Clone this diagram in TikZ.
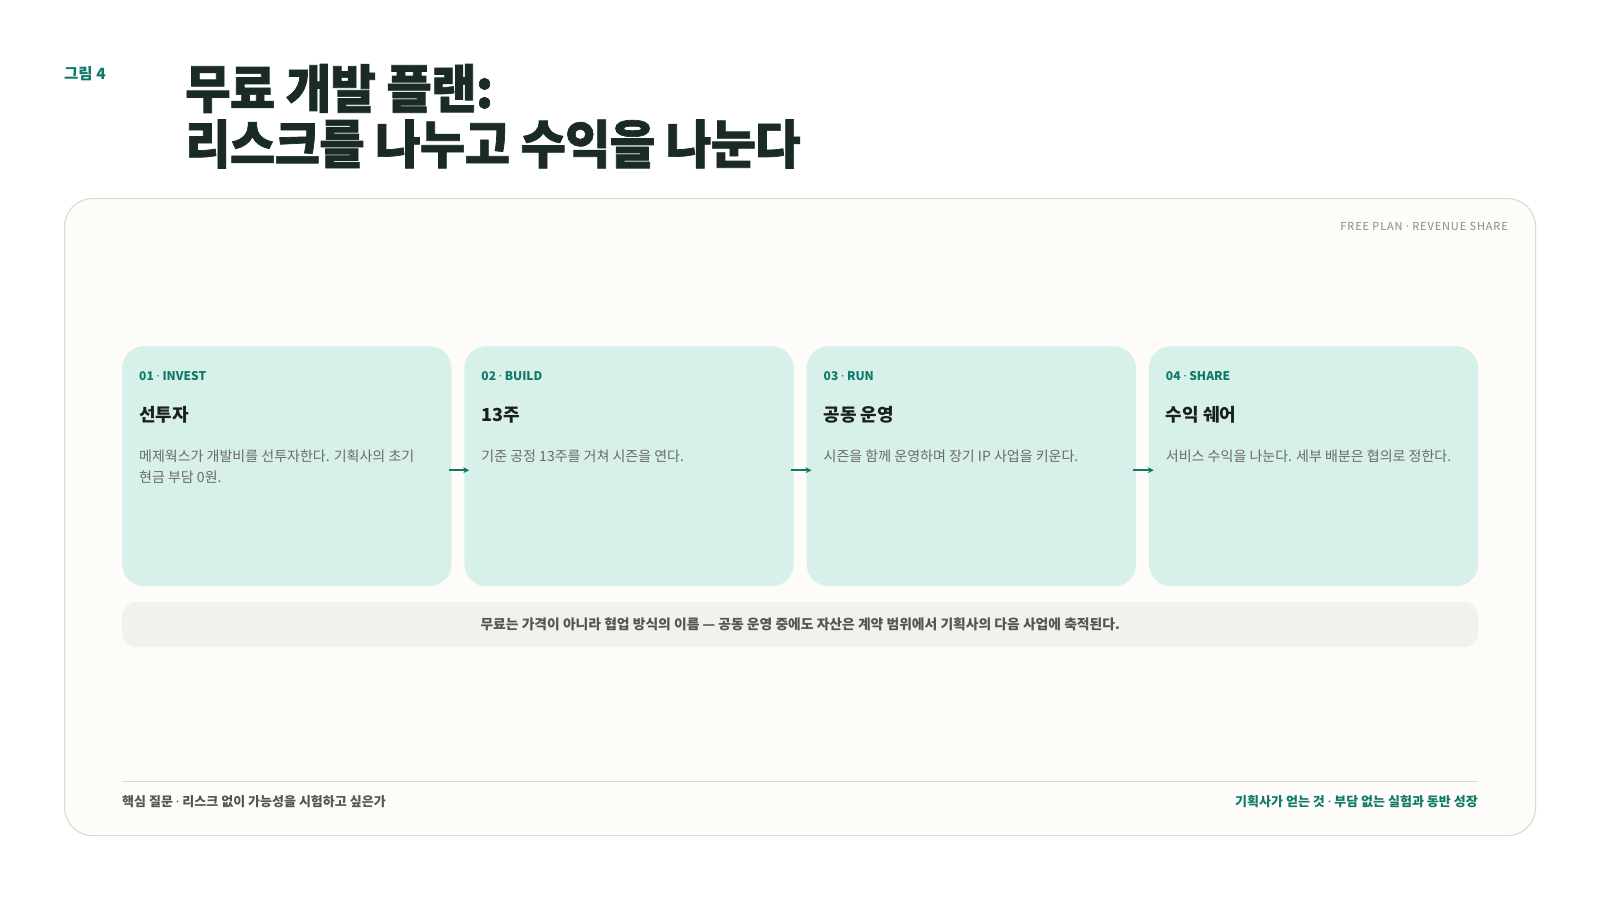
\documentclass[tikz,border=0pt]{standalone}
\usepackage{fontspec}
\setmainfont{Noto Sans CJK KR}
\newfontfamily\heavy{Noto Sans CJK KR}[BoldFeatures={FakeBold=1.3,FakeStretch=0.95,LetterSpace=-1.5}]
\newfontfamily\tracked{Noto Sans CJK KR}[LetterSpace=8]
\newfontfamily\latindot{Noto Sans}
\newcommand\mydot{{\latindot ·}}
\usetikzlibrary{arrows.meta}
\definecolor{teal}{HTML}{0F7A6A}
\definecolor{titleink}{HTML}{1A2B25}
\definecolor{cardfill}{HTML}{D7F0E9}
\definecolor{panelfill}{HTML}{FDFCF9}
\definecolor{panelline}{HTML}{DCD9D2}
\definecolor{notefill}{HTML}{F2F1EC}
\definecolor{bodyink}{HTML}{6A6A6A}
\definecolor{noteink}{HTML}{555555}
\definecolor{ruleink}{HTML}{D9D7D0}
\definecolor{capink}{HTML}{8A8A85}
\definecolor{headink}{HTML}{1B1F1D}
\tikzset{
  panel/.style={draw=panelline, line width=1.1pt, fill=panelfill, rounded corners=28pt, inner sep=0pt, minimum width=1471pt, minimum height=637pt, anchor=north west},
  card/.style={fill=cardfill, rounded corners=22pt, inner sep=0pt, minimum width=329.25pt, minimum height=240pt, anchor=north west},
  steplabel/.style={anchor=west, inner sep=0pt, text=teal, font=\bfseries\fontsize{12}{14}\selectfont},
  steptitle/.style={anchor=west, inner sep=0pt, text=headink, font=\bfseries\fontsize{18}{22}\selectfont},
  stepbody/.style={anchor=north west, inner sep=0pt, align=left, text=bodyink, font=\fontsize{14}{21}\selectfont},
  flow/.style={draw=teal, line width=1.6pt, -{Stealth[length=6pt,width=6pt]}},
  notebar/.style={fill=notefill, rounded corners=14pt, inner sep=0pt, minimum width=1356pt, minimum height=45pt, anchor=north west},
  bigtitle/.style={anchor=west, inner sep=0pt, text=titleink, font=\heavy\bfseries\fontsize{52}{56}\selectfont},
}
\begin{document}
\begin{tikzpicture}[x=1pt,y=-1pt]
\useasboundingbox (0,0) rectangle (1600,900);
\fill[white] (0,0) rectangle (1600,900);

\node[anchor=west, inner sep=0pt, text=teal, font=\bfseries\fontsize{15.5}{17}\selectfont] (fig) at (64,73.5) {그림 4};
\node[bigtitle] (t1) at (185,88.5) {무료 개발 플랜:};
\node[bigtitle] (t2) at (185,144) {리스크를 나누고 수익을 나눈다};

\node[panel] (panel) at (64,198) {};
\node[anchor=east, inner sep=0pt, text=capink, font=\tracked\fontsize{11}{13}\selectfont] (tag) at (1508,226.5) {FREE PLAN \mydot{} REVENUE SHARE};

% cards
\node[card] (c1) at (122,346) {};
\node[card] (c2) at (464.25,346) {};
\node[card] (c3) at (806.5,346) {};
\node[card] (c4) at (1148.75,346) {};

\node[steplabel] (l1) at (139,376) {01 \mydot{} INVEST};
\node[steptitle] (h1) at (139,415) {선투자};
\node[stepbody] (b1) at (139,449.5) {메제웍스가 개발비를 선투자한다. 기획사의 초기\\현금 부담 0원.};

\node[steplabel] (l2) at (481.25,376) {02 \mydot{} BUILD};
\node[steptitle] (h2) at (481.25,415) {13주};
\node[stepbody] (b2) at (481.25,449.5) {기준 공정 13주를 거쳐 시즌을 연다.};

\node[steplabel] (l3) at (823.5,376) {03 \mydot{} RUN};
\node[steptitle] (h3) at (823.5,415) {공동 운영};
\node[stepbody] (b3) at (823.5,449.5) {시즌을 함께 운영하며 장기 IP 사업을 키운다.};

\node[steplabel] (l4) at (1165.75,376) {04 \mydot{} SHARE};
\node[steptitle] (h4) at (1165.75,415) {수익 쉐어};
\node[stepbody] (b4) at (1165.75,449.5) {서비스 수익을 나눈다. 세부 배분은 협의로 정한다.};

\draw[flow] ([shift={(-3,4)}]c1.east) -- ([shift={(5,4)}]c2.west);
\draw[flow] ([shift={(-3,4)}]c2.east) -- ([shift={(5,4)}]c3.west);
\draw[flow] ([shift={(-3,4)}]c3.east) -- ([shift={(5,4)}]c4.west);

% note bar
\node[notebar] (nb) at (122,602) {};
\node[inner sep=0pt, text=noteink, font=\bfseries\fontsize{13.8}{16}\selectfont] (nt) at (nb.center) {무료는 가격이 아니라 협업 방식의 이름 — 공동 운영 중에도 자산은 계약 범위에서 기획사의 다음 사업에 축적된다.};

% footer
\coordinate (rl) at (122,781);
\coordinate (rr) at (1478,781);
\draw[ruleink, line width=1pt] (rl) -- (rr);
\node[anchor=west, inner sep=0pt, text=noteink, font=\bfseries\fontsize{13}{15}\selectfont] (fl) at (122,802) {핵심 질문 \mydot{} 리스크 없이 가능성을 시험하고 싶은가};
\node[anchor=east, inner sep=0pt, text=teal, font=\bfseries\fontsize{13}{15}\selectfont] (fr) at (1478,802) {기획사가 얻는 것 \mydot{} 부담 없는 실험과 동반 성장};
\end{tikzpicture}
\end{document}
